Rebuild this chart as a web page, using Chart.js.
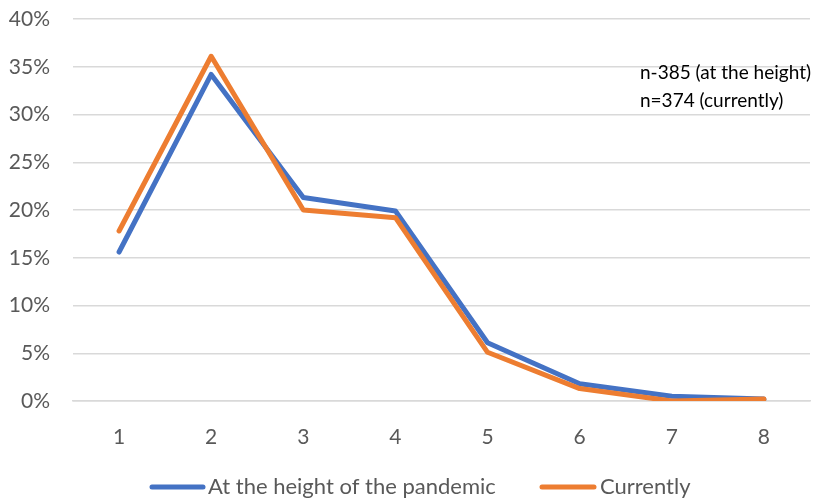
<!DOCTYPE html>
<html>
<head>
<meta charset="utf-8">
<script src="https://cdn.jsdelivr.net/npm/chart.js@4/dist/chart.umd.min.js"></script>
<style>
  html, body { margin: 0; padding: 0; background: #fff; }
  #wrap { width: 839px; height: 500px; }
</style>
</head>
<body>
<div id="wrap"><canvas id="c" width="839" height="500"></canvas></div>
<script>
// Answer categories along the x axis
const categories = ['1', '2', '3', '4', '5', '6', '7', '8'];
// Share of respondents (%) per answer
const heightOfPandemic = [15.6, 34.2, 21.3, 19.9, 6.1, 1.8, 0.5, 0.2];
const currently = [17.8, 36.1, 20.0, 19.2, 5.1, 1.3, 0.0, 0.2];
const seriesNames = ['At the height of the pandemic', 'Currently'];
const sampleNotes = ['n-385 (at the height)', 'n=374 (currently)'];
const yTicks = [0, 5, 10, 15, 20, 25, 30, 35, 40];

const FONT = 'Lato, "Liberation Sans", sans-serif';
const BLUE = '#4472C4';
const ORANGE = '#ED7D31';
const TEXT = '#595959';

// Sample-size note in the upper right and the series key below the axis
const notePlugin = {
  id: 'sampleNote',
  afterDraw(chart) {
    const ctx = chart.ctx;
    ctx.save();
    ctx.font = '19px ' + FONT;
    ctx.fillStyle = '#000';
    ctx.textBaseline = 'middle';
    ctx.textAlign = 'left';
    ctx.fillText(sampleNotes[0], 640, 73);
    ctx.fillText(sampleNotes[1], 640, 101);

    const y = 487;
    const keys = [
      { x0: 152, x1: 203, tx: 208, color: BLUE, text: seriesNames[0] },
      { x0: 542, x1: 594, tx: 600, color: ORANGE, text: seriesNames[1] }
    ];
    ctx.font = '22px ' + FONT;
    ctx.fillStyle = TEXT;
    ctx.lineWidth = 5;
    ctx.lineCap = 'round';
    keys.forEach(k => {
      ctx.strokeStyle = k.color;
      ctx.beginPath();
      ctx.moveTo(k.x0, y);
      ctx.lineTo(k.x1, y);
      ctx.stroke();
      ctx.fillText(k.text, k.tx, y);
    });
    ctx.restore();
  }
};

new Chart(document.getElementById('c'), {
  type: 'line',
  data: {
    labels: categories,
    datasets: [
      { label: seriesNames[0], data: heightOfPandemic, borderColor: BLUE, backgroundColor: BLUE,
        borderWidth: 5, pointRadius: 0, tension: 0, order: 1,
        borderCapStyle: 'round', borderJoinStyle: 'round' },
      { label: seriesNames[1], data: currently, borderColor: ORANGE, backgroundColor: ORANGE,
        borderWidth: 5, pointRadius: 0, tension: 0, order: 0,
        borderCapStyle: 'round', borderJoinStyle: 'round' }
    ]
  },
  options: {
    responsive: false,
    animation: false,
    layout: { padding: { left: 0, right: 29, top: 19, bottom: 0 } },
    plugins: {
      tooltip: { enabled: false },
      legend: { display: false }
    },
    scales: {
      x: {
        offset: true,
        grid: { display: false, drawTicks: false },
        border: { display: true, color: '#d9d9d9', width: 1.5 },
        ticks: { font: { family: FONT, size: 21 }, color: TEXT, padding: 24 },
        afterFit(scale) { scale.height = 99; scale.paddingLeft = 0; scale.paddingRight = 0; }
      },
      y: {
        min: 0,
        max: 40,
        afterBuildTicks(axis) { axis.ticks = yTicks.map(v => ({ value: v })); },
        grid: { color: '#d9d9d9', lineWidth: 1.5, drawTicks: false },
        border: { display: false },
        ticks: { font: { family: FONT, size: 21 }, color: TEXT, padding: 23,
                 callback: v => v + '%' },
        afterFit(scale) { scale.width = 73; scale.paddingTop = 0; scale.paddingBottom = 0; }
      }
    }
  },
  plugins: [notePlugin]
});
</script>
</body>
</html>
